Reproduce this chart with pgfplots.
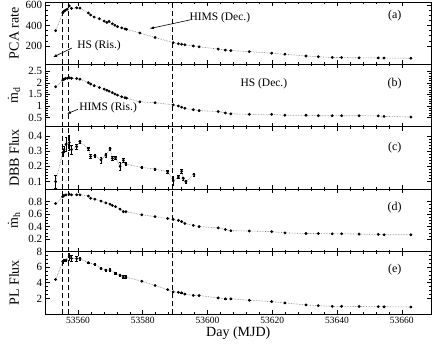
\documentclass[border=0pt]{standalone}
\usepackage{fontspec}
\setmainfont{Liberation Serif}
\usepackage{pgfplots}
\usepackage{pgfplotstable}
\pgfplotsset{compat=1.18}
\usepgfplotslibrary{groupplots}
\usetikzlibrary{arrows.meta}

\pgfplotstableread{
x y
53553.1 350
53555.3 523
53555.7 540
53556.1 550
53556.7 560
53557.3 593
53558.0 567
53559.6 573
53560.6 570
53563.2 523
53563.9 503
53565.0 483
53566.6 467
53568.1 443
53568.9 430
53569.6 440
53570.6 417
53571.4 403
53572.2 390
53573.5 377
53574.5 367
53575.0 363
53579.1 327
53583.8 283
53589.4 233
53591.0 222
53592.0 217
53593.0 212
53595.6 200
53597.4 192
53603.3 170
53605.5 160
53607.2 155
53612.9 145
53619.8 130
53623.9 120
53630.4 102
53634.2 95
53638.5 88
53641.4 87
53646.8 84
53652.7 83
53654.5 82
53662.8 80
}\tpca

\pgfplotstableread{
x y
53553.1 1.83
53555.3 2.12
53555.7 2.16
53556.1 2.19
53556.7 2.20
53557.3 2.22
53558.0 2.20
53559.6 2.19
53560.6 2.16
53563.2 2.01
53563.9 1.95
53565.0 1.88
53566.6 1.80
53568.1 1.73
53568.9 1.68
53569.6 1.64
53570.6 1.58
53571.4 1.52
53572.2 1.47
53573.5 1.40
53574.5 1.36
53575.0 1.34
53579.1 1.18
53583.8 1.14
53589.4 1.05
53591.0 1.00
53592.0 0.95
53593.0 0.90
53595.6 0.84
53597.4 0.80
53603.3 0.76
53605.5 0.70
53607.2 0.66
53612.9 0.64
53619.8 0.64
53623.9 0.60
53630.4 0.60
53634.2 0.58
53638.5 0.58
53641.4 0.58
53646.8 0.58
53652.7 0.57
53654.5 0.55
53662.8 0.52
}\tmd

\pgfplotstableread{
x y e
53553.1 0.100 0.045
53555.3 0.290 0.025
53555.7 0.310 0.020
53556.3 0.345 0.045
53557.3 0.356 0.050
53558.0 0.310 0.030
53559.6 0.330 0.015
53560.6 0.363 0.012
53563.2 0.317 0.012
53563.9 0.265 0.012
53565.2 0.270 0.010
53567.1 0.243 0.020
53568.6 0.274 0.012
53569.9 0.317 0.012
53570.6 0.252 0.012
53571.6 0.256 0.010
53573.0 0.200 0.025
53574.0 0.240 0.012
53574.8 0.215 0.010
53579.7 0.193 0.008
53583.8 0.182 0.008
53587.7 0.165 0.010
53589.4 0.105 0.030
53591.0 0.130 0.010
53592.0 0.168 0.015
53592.5 0.122 0.010
53593.3 0.100 0.008
53595.8 0.148 0.010
}\tdbb

\pgfplotstableread{
x y
53553.1 0.77
53555.3 0.88
53555.7 0.90
53556.3 0.91
53557.3 0.92
53558.0 0.91
53559.6 0.91
53560.6 0.91
53563.2 0.89
53563.9 0.855
53565.2 0.84
53567.1 0.81
53568.6 0.78
53569.9 0.76
53570.6 0.74
53571.6 0.72
53573.0 0.68
53574.0 0.64
53574.8 0.64
53579.7 0.59
53583.8 0.56
53587.7 0.53
53589.4 0.515
53591.0 0.50
53592.0 0.48
53593.0 0.45
53595.6 0.42
53597.4 0.40
53603.3 0.38
53605.5 0.355
53607.2 0.335
53612.9 0.33
53619.8 0.32
53623.9 0.30
53630.4 0.29
53634.2 0.29
53638.5 0.285
53641.4 0.285
53646.8 0.28
53652.7 0.275
53654.5 0.27
53662.8 0.27
}\tmh

\pgfplotstableread{
x y e
53553.1 4.43 0
53555.3 6.71 0.15
53555.7 6.88 0.15
53556.3 6.92 0.15
53557.3 7.35 0.40
53558.0 7.13 0.40
53559.6 7.10 0.30
53560.6 7.10 0.20
53563.2 6.58 0.10
53565.2 6.36 0.10
53567.1 5.85 0.10
53568.6 5.63 0.10
53569.9 5.63 0.20
53571.6 5.20 0.10
53573.0 4.98 0.10
53574.0 4.73 0.20
53574.8 4.73 0.20
53579.7 4.20 0
53583.8 3.65 0
53587.7 3.13 0
53589.4 2.84 0
53591.0 2.78 0
53592.0 2.72 0
53593.0 2.55 0
53595.6 2.38 0
53597.4 2.36 0
53603.3 2.06 0
53605.5 1.94 0
53607.2 1.94 0
53612.9 1.76 0
53619.8 1.59 0
53623.9 1.42 0
53630.4 1.16 0
53634.2 1.07 0
53638.5 0.98 0
53641.4 0.98 0
53646.8 0.96 0
53652.7 0.94 0
53654.5 0.93 0
53662.8 0.90 0
}\tpl

\newcommand{\vlines}{%
  \draw[black, line width=0.9pt, dash pattern=on 5pt off 3pt] ({axis cs:53555.1,0}|-{rel axis cs:0,0}) -- ({axis cs:53555.1,0}|-{rel axis cs:0,1});
  \draw[black, line width=0.9pt, dash pattern=on 5pt off 3pt] ({axis cs:53557.1,0}|-{rel axis cs:0,0}) -- ({axis cs:53557.1,0}|-{rel axis cs:0,1});
  \draw[black, line width=0.9pt, dash pattern=on 5pt off 3pt] ({axis cs:53589.3,0}|-{rel axis cs:0,0}) -- ({axis cs:53589.3,0}|-{rel axis cs:0,1});
}

\pgfplotsset{
  dataline/.style={black!55, line width=0.6pt, densely dotted, mark=*, mark size=1.1pt, mark options={black, solid}},
  errline/.style={dataline, error bars/.cd, y dir=both, y explicit, error bar style={black, solid, line width=0.5pt}, error mark options={rotate=90, mark size=1.2pt, black}},
}

\begin{document}
\begin{tikzpicture}
\begin{groupplot}[
  group style={group size=1 by 5, vertical sep=0pt, xticklabels at=edge bottom},
  width=385.4pt, height=62.4pt, scale only axis,
  xmin=53550, xmax=53669,
  xtick={53560,53580,...,53660},
  minor x tick num=4,
  scaled x ticks=false, scaled y ticks=false,
  /pgf/number format/assume math mode=true,
  /pgf/number format/1000 sep={},
  x tick label style={font=\fontsize{9.5}{10}\selectfont},
  y tick label style={font=\fontsize{11}{11}\selectfont},
  ylabel style={at={(axis description cs:-0.082,0.5)}, anchor=center, font=\fontsize{14}{14}\selectfont},
  major tick length=4pt, minor tick length=2pt,
  every tick/.style={black, line width=0.6pt},
  axis line style={line width=0.9pt},
]
\nextgroupplot[ymin=20, ymax=630, ytick={200,400,600}, minor y tick num=3, ylabel={PCA rate}]
\addplot[dataline] table[x=x, y=y] {\tpca};
\vlines
\coordinate (tl) at (rel axis cs:0,1);
\node[font=\fontsize{12}{12}\selectfont] at (axis cs:53657.8,500) {(a)};
\node[font=\fontsize{11.5}{12}\selectfont] at (axis cs:53603.8,480) {HIMS (Dec.)};
\draw[-{Latex[length=4pt,width=3pt]}, line width=0.6pt] (axis cs:53594.6,455) -- (axis cs:53582.2,370);
\node[font=\fontsize{11.5}{12}\selectfont] at (axis cs:53566.5,200) {HS (Ris.)};
\draw[-{Latex[length=4pt,width=3pt]}, line width=0.6pt] (axis cs:53558.1,180) -- (axis cs:53552.3,90);

\nextgroupplot[ymin=0.1, ymax=2.8, ytick={0.5,1,1.5,2,2.5}, minor y tick num=4, ylabel={$\dot{\mathrm{m}}_{\mathrm{d}}$}]
\addplot[dataline] table[x=x, y=y] {\tmd};
\vlines
\node[font=\fontsize{12}{12}\selectfont] at (axis cs:53657.8,1.96) {(b)};
\node[font=\fontsize{11.5}{12}\selectfont] at (axis cs:53617.4,1.96) {HS (Dec.)};
\node[font=\fontsize{11.5}{12}\selectfont] at (axis cs:53569.3,0.93) {HIMS (Ris.)};
\draw[-{Latex[length=4pt,width=3pt]}, line width=0.6pt] (axis cs:53560.0,0.86) -- (axis cs:53556.6,0.66);

\nextgroupplot[ymin=0.05, ymax=0.46, ytick={0.1,0.2,0.3,0.4}, minor y tick num=4, ylabel={DBB Flux}]
\addplot[errline] table[x=x, y=y, y error=e] {\tdbb};
\vlines
\node[font=\fontsize{12}{12}\selectfont] at (axis cs:53657.8,0.324) {(c)};

\nextgroupplot[ymin=0, ymax=1, ytick={0.2,0.4,0.6,0.8}, minor y tick num=3, ylabel={$\dot{\mathrm{m}}_{\mathrm{h}}$}]
\addplot[dataline] table[x=x, y=y] {\tmh};
\vlines
\node[font=\fontsize{12}{12}\selectfont] at (axis cs:53657.8,0.71) {(d)};

\nextgroupplot[ymin=0, ymax=8, ytick={2,4,6,8}, minor y tick num=3, ylabel={PL Flux}, xlabel={Day (MJD)},
  xlabel style={font=\fontsize{14}{14}\selectfont, yshift=4pt}]
\addplot[errline] table[x=x, y=y, y error=e] {\tpl};
\vlines
\node[font=\fontsize{12}{12}\selectfont] at (axis cs:53657.8,5.7) {(e)};
\coordinate (br) at (rel axis cs:1,0);
\end{groupplot}
\pgfresetboundingbox
\path ([shift={(-45.6pt,2pt)}]tl) rectangle ([shift={(5pt,-30pt)}]br);
\end{tikzpicture}
\end{document}
